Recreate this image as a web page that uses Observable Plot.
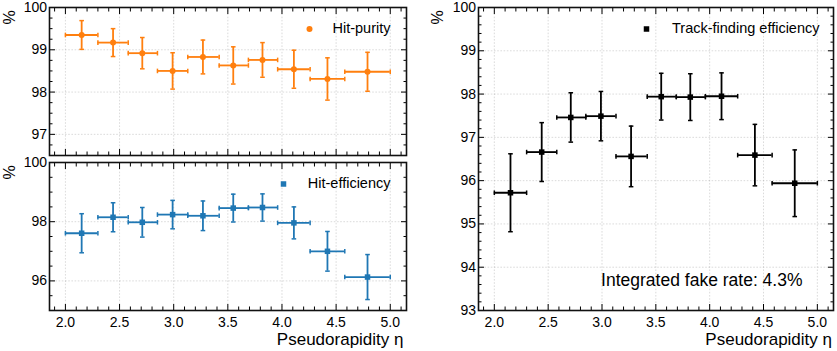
<!DOCTYPE html>
<html><head><meta charset="utf-8">
<script src="https://cdn.jsdelivr.net/npm/d3@7"></script>
<script src="https://cdn.jsdelivr.net/npm/@observablehq/plot@0.6"></script>
<style>
html,body{margin:0;padding:0;background:#fff;}
#wrap{position:relative;width:837px;height:351px;overflow:hidden;background:#fff;}
.panel{position:absolute;}
.panel svg{overflow:visible;display:block;}
</style></head><body><div id="wrap"></div>
<script>
// ---- data ----
const etaEdges   = [2.0, 2.3, 2.58, 2.85, 3.13, 3.42, 3.69, 3.96, 4.26, 4.58, 5.0];
const etaCenters = [2.15, 2.44, 2.71, 2.99, 3.27, 3.55, 3.82, 4.11, 4.42, 4.79];
const hitPurity     = [99.35, 99.17, 98.92, 98.50, 98.83, 98.63, 98.76, 98.54, 98.31, 98.48];
const hitPurityErr  = [0.34, 0.33, 0.37, 0.43, 0.40, 0.44, 0.41, 0.45, 0.50, 0.46];
const hitEff        = [97.61, 98.15, 97.98, 98.24, 98.20, 98.46, 98.48, 97.96, 97.00, 96.13];
const hitEffErr     = [0.66, 0.49, 0.50, 0.48, 0.50, 0.47, 0.46, 0.54, 0.67, 0.76];
const trackEff      = [95.72, 96.66, 97.46, 97.49, 96.56, 97.94, 97.93, 97.95, 96.59, 95.94];
const trackEffErr   = [0.90, 0.68, 0.57, 0.57, 0.70, 0.54, 0.54, 0.54, 0.71, 0.77];
const xTicks = [2.0, 2.5, 3.0, 3.5, 4.0, 4.5, 5.0];
const yTicksPurity = [97, 98, 99, 100];
const yTicksHitEff = [96, 98, 100];
const yTicksTrack  = [93, 94, 95, 96, 97, 98, 99, 100];
const labelX = "Pseudorapidity η";
const labelY = "%";
const fakeRateText = "Integrated fake rate: 4.3%";

const FONT = '"Liberation Sans", Arial, Helvetica, sans-serif';
const xDomain = [1.853, 5.15];
const xMinor = d3.range(19, 52).map(d => d / 10).filter(v => !xTicks.some(t => Math.abs(t - v) < 1e-9));
function minors(lo, hi, step, majors) {
  const out = [];
  for (let v = lo; v <= hi + 1e-9; v += step) {
    const r = Math.round(v * 100) / 100;
    if (!majors.some(t => Math.abs(t - r) < 1e-9)) out.push(r);
  }
  return out;
}
const capH = {draw(ctx) { ctx.moveTo(-2.3, 0); ctx.lineTo(2.3, 0); }};
const capV = {draw(ctx) { ctx.moveTo(0, -2.3); ctx.lineTo(0, 2.3); }};
const gridStyle = {stroke: "#999", strokeOpacity: 0.45, strokeDasharray: "1.6,1.6", strokeWidth: 0.8};

function panel(cfg) {
  const rows = etaCenters.map((c, i) => ({c, lo: etaEdges[i], hi: etaEdges[i + 1], v: cfg.values[i], e: cfg.errors[i]}));
  const blank = () => "";
  const marks = [
    Plot.gridX(xTicks, gridStyle),
    Plot.gridY(cfg.yTicks, gridStyle),
    // inward ticks on all four sides
    Plot.axisX(xTicks, {anchor: "bottom", tickSize: -6, tickFormat: blank, label: null}),
    Plot.axisX(xMinor, {anchor: "bottom", tickSize: -3.5, tickFormat: blank, label: null}),
    Plot.axisX(xTicks, {anchor: "top", tickSize: -6, tickFormat: blank, label: null}),
    Plot.axisX(xMinor, {anchor: "top", tickSize: -3.5, tickFormat: blank, label: null}),
    Plot.axisY(cfg.yTicks, {anchor: "left", tickSize: -6, tickFormat: blank, label: null}),
    Plot.axisY(cfg.yMinor, {anchor: "left", tickSize: -3.5, tickFormat: blank, label: null}),
    Plot.axisY(cfg.yTicks, {anchor: "right", tickSize: -6, tickFormat: blank, label: null}),
    Plot.axisY(cfg.yMinor, {anchor: "right", tickSize: -3.5, tickFormat: blank, label: null}),
    // tick labels
    Plot.axisY(cfg.yTicks, {anchor: "left", tickSize: 0, tickPadding: 2.5, tickFormat: d3.format("d"), label: null, fontSize: 14}),
  ];
  if (cfg.showX) {
    marks.push(Plot.axisX(xTicks, {anchor: "bottom", tickSize: 0, tickPadding: 7, tickFormat: d3.format(".1f"), label: null, fontSize: 14}));
    marks.push(Plot.text([labelX], {frameAnchor: "bottom-right", text: d => d, dx: cfg.xlabDx, dy: 29.5, textAnchor: "end", lineAnchor: "middle", fontSize: 17}));
  }
  marks.push(Plot.text([labelY], {frameAnchor: "top-left", text: d => d, rotate: -90, dx: cfg.ylabDx, dy: 10, textAnchor: "middle", lineAnchor: "middle", fontSize: 16}));
  marks.push(Plot.frame({stroke: "#111", strokeWidth: 1.6}));
  // error bars
  const eb = {stroke: cfg.color, strokeWidth: 1.8};
  marks.push(Plot.ruleY(rows, {y: "v", x1: "lo", x2: "hi", ...eb}));
  marks.push(Plot.ruleX(rows, {x: "c", y1: d => d.v - d.e, y2: d => d.v + d.e, ...eb}));
  marks.push(Plot.dot(rows, {x: "c", y: d => d.v - d.e, symbol: capH, fill: "none", stroke: cfg.color, strokeWidth: 1.5}));
  marks.push(Plot.dot(rows, {x: "c", y: d => d.v + d.e, symbol: capH, fill: "none", stroke: cfg.color, strokeWidth: 1.5}));
  marks.push(Plot.dot(rows, {x: "lo", y: "v", symbol: capV, fill: "none", stroke: cfg.color, strokeWidth: 1.5}));
  marks.push(Plot.dot(rows, {x: "hi", y: "v", symbol: capV, fill: "none", stroke: cfg.color, strokeWidth: 1.5}));
  marks.push(Plot.dot(rows, {x: "c", y: "v", symbol: cfg.symbol, r: cfg.r, fill: cfg.color, stroke: "none"}));
  // legend
  marks.push(Plot.dot([cfg.legend], {frameAnchor: "top-right", dx: cfg.legMarkDx, dy: cfg.legDy + 0.5, symbol: cfg.symbol, r: cfg.r, fill: cfg.color, stroke: "none"}));
  marks.push(Plot.text([cfg.legend], {frameAnchor: "top-right", text: d => d, dx: cfg.legTextDx, dy: cfg.legDy, textAnchor: "end", lineAnchor: "middle", fontSize: 14.5}));
  if (cfg.extra) marks.push(...cfg.extra);
  return Plot.plot({
    width: cfg.width, height: cfg.height,
    marginTop: cfg.m[0], marginRight: cfg.m[1], marginBottom: cfg.m[2], marginLeft: cfg.m[3],
    x: {type: "linear", domain: xDomain},
    y: {type: "linear", domain: cfg.yDomain},
    style: {fontFamily: FONT, fontSize: "14px", color: "black", background: "transparent", overflow: "visible"},
    marks
  });
}

const wrap = document.getElementById("wrap");
function place(svg, left, top) {
  const d = document.createElement("div");
  d.className = "panel"; d.style.left = left + "px"; d.style.top = top + "px";
  d.appendChild(svg); wrap.appendChild(d);
}

place(panel({
  width: 420, height: 160, m: [7, 14, 5, 49],
  yDomain: [96.5, 100], yTicks: yTicksPurity, yMinor: minors(96.5, 100, 0.25, yTicksPurity),
  values: hitPurity, errors: hitPurityErr, color: "#ff7f0e", symbol: "circle", r: 3,
  legend: "Hit-purity", legMarkDx: -97, legTextDx: -16, legDy: 21, showX: false, ylabDx: -39.5
}), 0, 0);

place(panel({
  width: 420, height: 191, m: [2, 14, 41, 49],
  yDomain: [95, 100], yTicks: yTicksHitEff, yMinor: minors(95, 100, 0.5, yTicksHitEff),
  values: hitEff, errors: hitEffErr, color: "#1f77b4", symbol: "square", r: 3.1,
  legend: "Hit-efficiency", legMarkDx: -123, legTextDx: -16, legDy: 21, showX: true, xlabDx: -3, ylabDx: -39.5
}), 0, 160);

place(panel({
  width: 417, height: 351, m: [7, 4, 41, 58],
  yDomain: [93, 100], yTicks: yTicksTrack, yMinor: minors(93, 100, 0.2, yTicksTrack),
  values: trackEff, errors: trackEffErr, color: "#000", symbol: "square", r: 3.1,
  legend: "Track-finding efficiency", legMarkDx: -187, legTextDx: -14, legDy: 21, showX: true, xlabDx: -1.5, ylabDx: -40.5,
  extra: [Plot.text([fakeRateText], {frameAnchor: "bottom-right", text: d => d, dx: -31, dy: -30.5, textAnchor: "end", lineAnchor: "middle", fontSize: 17.5})]
}), 420, 0);
</script></body></html>
